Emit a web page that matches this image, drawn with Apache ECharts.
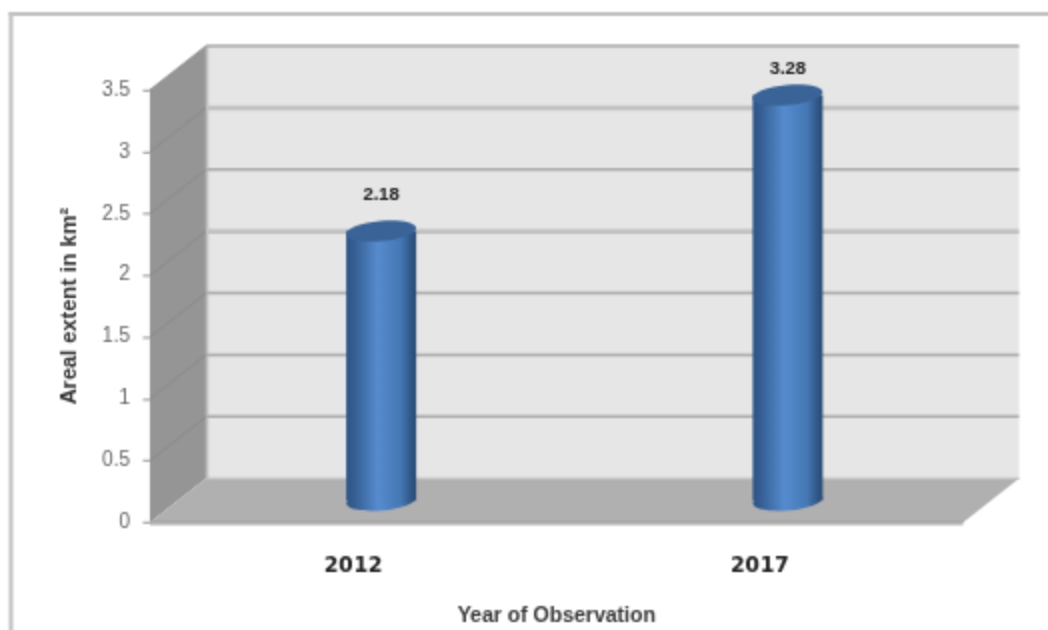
<!DOCTYPE html>
<html><head><meta charset="utf-8">
<style>html,body{margin:0;padding:0;background:#fff}#c{width:1048px;height:630px}</style>
<script src="https://cdn.jsdelivr.net/npm/echarts@6/dist/echarts.min.js"></script>
</head><body><div id="c"></div>
<script>
const categories = ['2012', '2017'];
const arealExtent = [2.18, 3.28];
const valueTicks = [0, 0.5, 1, 1.5, 2, 2.5, 3, 3.5];
const xAxisTitle = 'Year of Observation';
const yAxisTitle = 'Areal extent in km²';

const DX = 56, DY = -44;
const TEXT = '"Liberation Sans", Arial, sans-serif';
const chart = echarts.init(document.getElementById('c'), null, {devicePixelRatio: 0.5});

function renderRoom(params, api) {
  const cs = params.coordSys;
  const l = cs.x, r = cs.x + cs.width, t = cs.y, b = cs.y + cs.height;
  const poly = (points, fill) => ({type: 'polygon', shape: {points}, style: {fill}});
  const kids = [
    poly([[l + DX, t + DY], [r + DX, t + DY], [r + DX, b + DY], [l + DX, b + DY]], '#e6e6e6'),
    poly([[l, t], [l + DX, t + DY], [l + DX, b + DY], [l, b]], '#959595'),
    poly([[l, b], [l + DX, b + DY], [r + DX, b + DY], [r, b]], '#b0b0b0'),
    {type: 'line', shape: {x1: l, y1: b + 1.5, x2: r, y2: b + 1.5}, style: {stroke: '#d2d2d2', lineWidth: 4}},
    {type: 'line', shape: {x1: l, y1: b - 0.5, x2: r, y2: b - 0.5}, style: {stroke: '#a6a6a6', lineWidth: 3}},
    {type: 'line', shape: {x1: l + DX, y1: b + DY, x2: r + DX, y2: b + DY}, style: {stroke: '#c0c0c0', lineWidth: 2.5}},
    {type: 'line', shape: {x1: l + DX + 1, y1: t + DY, x2: l + DX + 1, y2: b + DY}, style: {stroke: '#bdbdbd', lineWidth: 3}}
  ];
  valueTicks.forEach(v => {
    const y = api.coord([0, v])[1];
    if (v > 0) {
      const soft = v === 2 || v === 3;
      kids.push({type: 'line', shape: {x1: l, y1: y, x2: l + DX, y2: y + DY}, style: {stroke: '#8a8a8a', lineWidth: 1.5}});
      kids.push({type: 'line', shape: {x1: l + DX, y1: y + DY, x2: r + DX, y2: y + DY},
        style: {stroke: soft ? '#c2c2c2' : '#adadad', lineWidth: soft ? 5 : 3}});
    }
  });
  return {type: 'group', children: kids};
}

function renderBar(params, api) {
  const idx = api.value(0), val = api.value(1);
  const top = api.coord([idx, val]), base = api.coord([idx, 0]);
  const cx = top[0] + DX / 2, topY = top[1] + DY / 2, baseY = base[1] + DY / 2;
  const w = 70, ry = 10, tilt = 0.09;
  const body = new echarts.graphic.LinearGradient(0, 0, 1, 0, [
    {offset: 0, color: '#2c5385'}, {offset: 0.12, color: '#365f94'},
    {offset: 0.45, color: '#568ccf'}, {offset: 0.78, color: '#4577b4'},
    {offset: 0.93, color: '#2f5684'}, {offset: 1, color: '#2a4c78'}]);
  const ell = (y, fill) => ({type: 'ellipse', x: cx, y, rotation: tilt,
    shape: {cx: 0, cy: 0, rx: w / 2, ry}, style: {fill}});
  const gap = idx === 0 ? 36 : 27;
  return {type: 'group', children: [
    ell(baseY, body),
    {type: 'rect', shape: {x: cx - w / 2, y: topY, width: w, height: baseY - topY}, style: {fill: body}},
    ell(topY, '#3a6497'),
    {type: 'text', x: cx, y: topY - gap, style: {text: val.toFixed(2), fill: '#222',
      font: 'bold 19px ' + TEXT, align: 'center', verticalAlign: 'middle'}}
  ]};
}

chart.setOption({
  animation: false,
  backgroundColor: '#fff',
  grid: {left: 150, right: 85, top: 90, bottom: 107.5, outerBoundsMode: 'none'},
  xAxis: {
    type: 'category', data: categories,
    axisLine: {show: false}, axisTick: {show: false},
    axisLabel: {margin: 33, color: '#222', fontSize: 21, fontWeight: 'bold', fontFamily: '"DejaVu Sans"'},
    name: xAxisTitle, nameLocation: 'middle', nameGap: 84,
    nameTextStyle: {color: '#3a3a3a', fontSize: 21, fontWeight: 'bold', fontFamily: TEXT}
  },
  yAxis: {
    type: 'value', min: 0, max: 3.5, interval: 0.5,
    axisLine: {show: true, lineStyle: {color: '#f0f0f0', width: 2}},
    axisTick: {show: true, length: 7, lineStyle: {color: '#b0b0b0', width: 2.5}},
    splitLine: {show: false},
    axisLabel: {margin: 20, color: '#666', fontSize: 20, fontFamily: TEXT},
    name: yAxisTitle, nameLocation: 'middle', nameGap: 70, nameRotate: 90,
    nameTextStyle: {color: '#333', fontSize: 22, fontWeight: 'bold', fontFamily: TEXT}
  },
  series: [
    {type: 'custom', renderItem: renderRoom, data: [0], encode: {x: 0, y: 0}, silent: true, z: 1, clip: false},
    {type: 'custom', renderItem: renderBar, data: arealExtent.map((v, i) => [i, v]),
     encode: {x: 0, y: 1}, silent: true, z: 2, clip: false}
  ],
  graphic: [
    {type: 'rect', shape: {x: 9, y: 12, width: 1039, height: 4}, style: {fill: '#c2c2c2'}},
    {type: 'rect', shape: {x: 9, y: 12, width: 4, height: 618}, style: {fill: '#c2c2c2'}}
  ]
});
</script></body></html>
